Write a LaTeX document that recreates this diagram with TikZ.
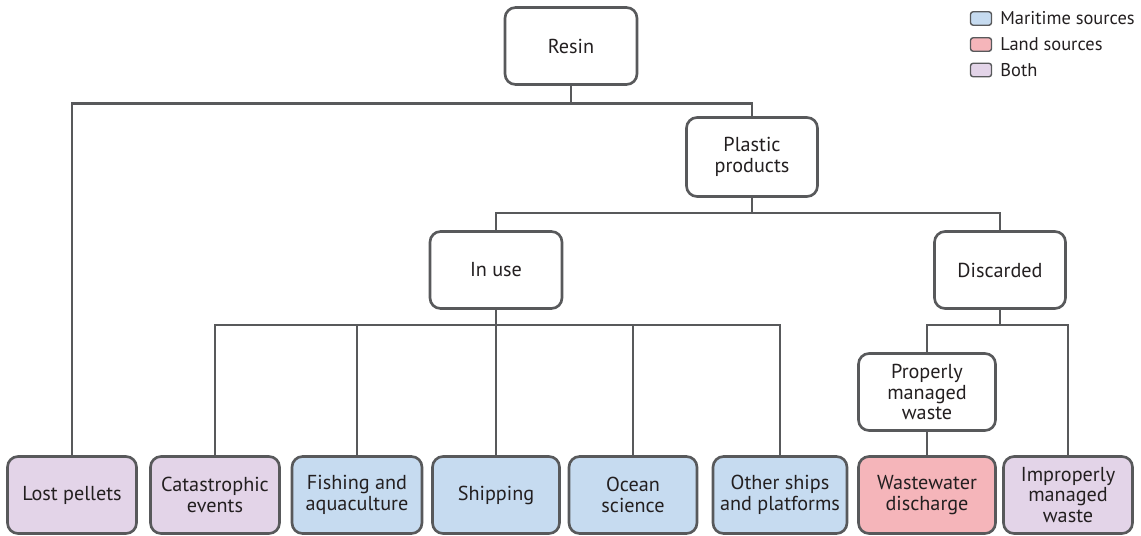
\documentclass[tikz,border=0pt]{standalone}
\usepackage{fontspec}
\setsansfont{PT Sans}
\usepackage{tikz}
\usetikzlibrary{positioning}
\definecolor{linegray}{HTML}{58595B}
\definecolor{textgray}{HTML}{231F20}
\definecolor{seablue}{HTML}{C6DBF0}
\definecolor{landpink}{HTML}{F5B5BA}
\definecolor{bothlilac}{HTML}{E3D4E8}

\begin{document}
\begin{tikzpicture}[
    x=0.02cm, y=-0.02cm,
    font=\sffamily\fontsize{11.5}{11.8}\selectfont,
    text=textgray
]
\tikzset{
    mynode/.style = {draw=linegray, line width=1.5pt, rounded corners=6pt,
        align=center, fill=white, minimum height=1.54cm, inner sep=2pt},
    mynodeb/.style = {mynode, fill=seablue},
    mynoder/.style = {mynode, fill=landpink},
    mynodep/.style = {mynode, fill=bothlilac},
    keybox/.style = {draw=linegray, line width=0.8pt, rounded corners=1.5pt,
        minimum width=0.42cm, minimum height=0.27cm, inner sep=0pt},
    keytext/.style = {anchor=west, inner sep=0pt, font=\sffamily\fontsize{10.5}{12}\selectfont},
    edgen/.style = {draw=linegray, line width=1.5pt}
}
\useasboundingbox (0,0) rectangle (1141,535);

% upper part of the tree
\node[mynode, minimum width=2.64cm] at (571,46) (resin) {Resin};
\node[mynode, minimum width=2.62cm, minimum height=1.58cm] at (752,157) (plastic) {Plastic\\products};
\node[mynode, minimum width=2.64cm] at (496,270) (inuse) {In use};
\node[mynode, minimum width=2.62cm] at (1000,270) (discarded) {Discarded};
\node[mynode, minimum width=2.74cm] at (927,392) (proper) {Properly\\managed\\waste};

% sources
\node[mynodep, minimum width=2.58cm] at (72,495) (lost) {Lost pellets};
\node[mynodep, minimum width=2.58cm] at (215,495) (catastrophic) {Catastrophic\\events};
\node[mynodeb, minimum width=2.6cm] at (357,495) (fishing) {Fishing and\\aquaculture};
\node[mynodeb, minimum width=2.54cm] at (496,495) (shipping) {Shipping};
\node[mynodeb, minimum width=2.56cm] at (633,495) (ocean) {Ocean\\science};
\node[mynodeb, minimum width=2.68cm] at (780,495) (othership) {Other ships\\and platforms};
\node[mynoder, minimum width=2.74cm] at (927,495) (wastewater) {Wastewater\\discharge};
\node[mynodep, minimum width=2.58cm] at (1068,495) (improper) {Improperly\\managed\\waste};

% connectors
\draw[edgen] (resin.south) -- ++(0,18) coordinate (j1);
\draw[edgen] (lost.north) |- (j1) -| (plastic.north);
\draw[edgen] (plastic.south) -- ++(0,15) coordinate (j2);
\draw[edgen] (inuse.north) |- (j2) -| (discarded.north);
\draw[edgen] (inuse.south) -- ++(0,15) coordinate (j3);
\draw[edgen] (catastrophic.north) |- (j3) -| (othership.north);
\foreach \n in {fishing,shipping,ocean}
    \draw[edgen] (\n.north) -- (\n.north|-j3);
\draw[edgen] (discarded.south) -- ++(0,15) coordinate (j4);
\draw[edgen] (proper.north) |- (j4) -| (improper.north);
\draw[edgen] (proper.south) -- (wastewater.north);

% key
\node[keybox, fill=seablue] at (981,18.5) (keysea) {};
\node[keybox, fill=landpink] at (981,44.5) (keyland) {};
\node[keybox, fill=bothlilac] at (981,70) (keyboth) {};
\node[keytext] at (1000,18.5) (keyseatext) {Maritime sources};
\node[keytext] at (1000,44.5) (keylandtext) {Land sources};
\node[keytext] at (1000,70) (keybothtext) {Both};
\end{tikzpicture}
\end{document}
